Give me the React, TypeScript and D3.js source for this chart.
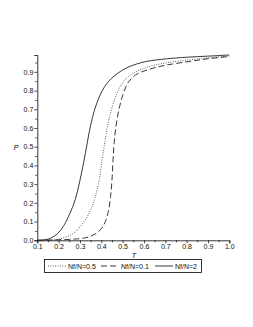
import { useEffect, useRef } from 'react';
import * as d3 from 'd3';

// [T, P]
const solidPts: [number, number][] = [
  [0.1, 0.0], [0.136, 0.003], [0.16, 0.01], [0.198, 0.039], [0.225, 0.08],
  [0.253, 0.144], [0.278, 0.218], [0.298, 0.31], [0.318, 0.42], [0.334, 0.52],
  [0.35, 0.615], [0.368, 0.695], [0.39, 0.765], [0.415, 0.82], [0.449, 0.866],
  [0.511, 0.917], [0.59, 0.95], [0.675, 0.966], [0.8, 0.978], [0.9, 0.984], [1.0, 0.99],
];
const dottedPts: [number, number][] = [
  [0.1, 0.0], [0.2, 0.005], [0.22, 0.012], [0.25, 0.025], [0.277, 0.045],
  [0.31, 0.085], [0.345, 0.15], [0.37, 0.225], [0.39, 0.32], [0.404, 0.43],
  [0.416, 0.52], [0.43, 0.615], [0.448, 0.7], [0.47, 0.775], [0.505, 0.85],
  [0.55, 0.893], [0.613, 0.924], [0.7, 0.947], [0.816, 0.964], [0.9, 0.975], [1.0, 0.985],
];
const dashedPts: [number, number][] = [
  [0.1, 0.0], [0.25, 0.005], [0.324, 0.013], [0.36, 0.027], [0.386, 0.045],
  [0.413, 0.085], [0.432, 0.15], [0.443, 0.23], [0.45, 0.32], [0.455, 0.43],
  [0.461, 0.53], [0.471, 0.626], [0.487, 0.72], [0.505, 0.79], [0.527, 0.845],
  [0.56, 0.883], [0.62, 0.912], [0.7, 0.935], [0.816, 0.956], [0.9, 0.97], [1.0, 0.982],
];
const xTicks = [0.1, 0.2, 0.3, 0.4, 0.5, 0.6, 0.7, 0.8, 0.9, 1.0];
const yTicks = [0.0, 0.1, 0.2, 0.3, 0.4, 0.5, 0.6, 0.7, 0.8, 0.9];
const legendLabels = ['Nf/N=0.5', 'Nf/N=0.1', 'Nf/N=2'];

const [width, height] = [253, 327];
const x = d3.scaleLinear().domain([0.1, 1.0]).range([37.3, 229.3]);
const y = d3.scaleLinear().domain([0, 0.99]).range([240.3, 55]);
const font = "'Liberation Sans', Arial, sans-serif";
const dashes = ['0.8,1.6', '6,3', ''];

function App() {
  const node = useRef<SVGSVGElement>(null);
  useEffect(() => {
    if (!node.current) return;
    const svg = d3.select(node.current);
    svg.selectAll('*').remove();

    /** axes */
    const xAxis = svg.append('g').attr('transform', `translate(0,${y(0)})`)
      .call(d3.axisBottom(x).tickValues(xTicks).tickSize(3).tickPadding(1).tickFormat(d3.format('.1f')));
    svg.append('g').attr('transform', `translate(0,${y(0)})`)
      .call(d3.axisBottom(x).tickValues(d3.range(0.15, 1.0, 0.1)).tickSize(2).tickFormat(() => ''))
      .select('.domain').remove();
    const yAxis = svg.append('g').attr('transform', `translate(${x(0.1)},0)`)
      .call(d3.axisLeft(y).tickValues(yTicks).tickSize(3).tickPadding(1).tickFormat(d3.format('.1f')));
    svg.append('g').attr('transform', `translate(${x(0.1)},0)`)
      .call(d3.axisLeft(y).tickValues(d3.range(0.05, 0.99, 0.1)).tickSize(2).tickFormat(() => ''))
      .select('.domain').remove();
    svg.selectAll('.domain').attr('stroke', '#000').attr('stroke-width', 0.8);
    svg.selectAll('.tick line').attr('stroke', '#000').attr('stroke-width', 0.7);
    [xAxis, yAxis].forEach(a => a.selectAll('text').attr('font-family', font).attr('font-size', 7).attr('fill', '#111'));

    /** curves */
    const line = d3.line<[number, number]>().x(d => x(d[0])).y(d => y(d[1])).curve(d3.curveCatmullRom.alpha(0.5));
    [dottedPts, dashedPts, solidPts].forEach((pts, i) => {
      svg.append('path').attr('d', line(pts)).attr('fill', 'none')
        .attr('stroke', '#222').attr('stroke-width', 0.9)
        .attr('stroke-dasharray', dashes[i] || null);
    });

    /** axis titles */
    svg.append('text').attr('x', 134).attr('y', 258).attr('text-anchor', 'middle')
      .attr('font-family', font).attr('font-size', 7).attr('font-style', 'italic').text('T');
    svg.append('text').attr('x', 16).attr('y', 150).attr('text-anchor', 'middle')
      .attr('font-family', font).attr('font-size', 7).attr('font-style', 'italic').text('P');

    /** legend */
    const lg = svg.append('g');
    lg.append('rect').attr('x', 44.5).attr('y', 259.5).attr('width', 157).attr('height', 13)
      .attr('fill', 'none').attr('stroke', '#000').attr('stroke-width', 0.8);
    const starts = [48, 101, 155];
    starts.forEach((x0, i) => {
      lg.append('line').attr('x1', x0).attr('x2', x0 + 18).attr('y1', 266).attr('y2', 266)
        .attr('stroke', '#222').attr('stroke-width', 0.9).attr('stroke-dasharray', dashes[i] || null);
      lg.append('text').attr('x', x0 + 20).attr('y', 268.5).attr('font-family', font)
        .attr('font-size', 7).attr('fill', '#111').text(legendLabels[i]);
    });
  }, [node]);

  return <svg ref={node} width={width} height={height} style={{ position: 'absolute', left: 0, top: 0 }} />;
}

export default App;
